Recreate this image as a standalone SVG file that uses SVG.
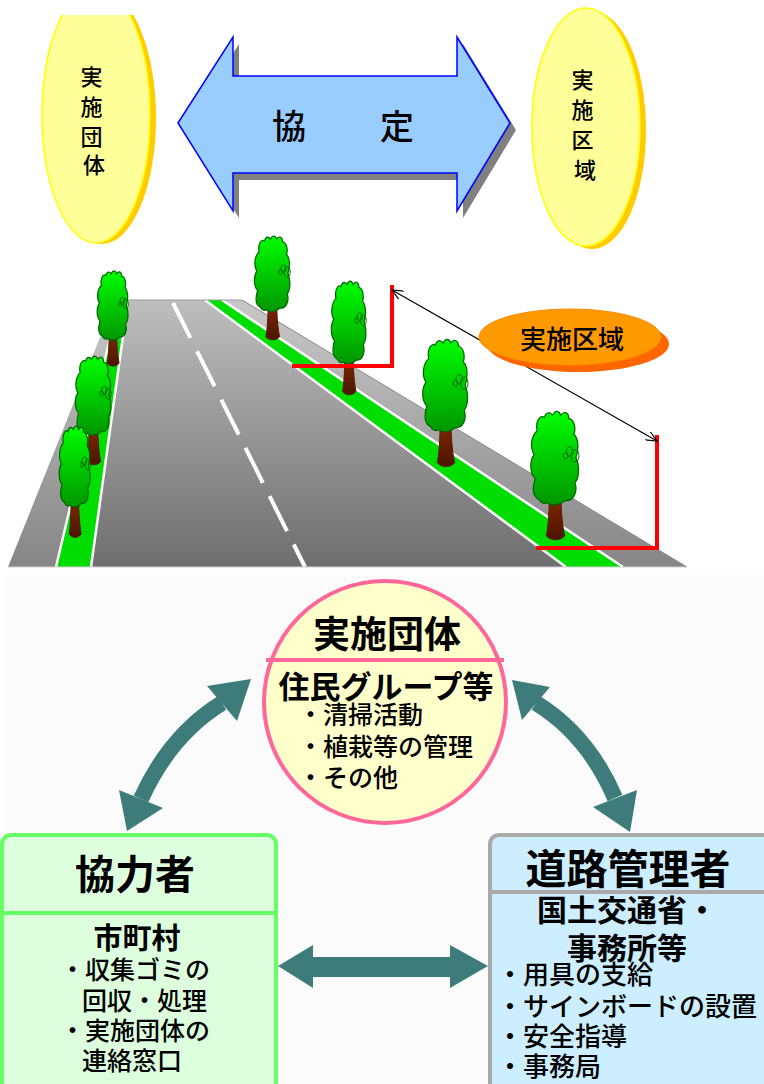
<svg xmlns="http://www.w3.org/2000/svg" width="764" height="1084" viewBox="0 0 764 1084">
  <style>
    .jp { font-family: "Noto Sans CJK JP", "Noto Sans CJK SC", sans-serif; fill: #000; }
    .m { font-weight: 500; }
    .b { font-weight: bold; }
    .teal { fill: #3E7C7C; }
    .wline { stroke: #FFFFFF; stroke-width: 2.5; fill: none; }
    .red { stroke: #FF0000; stroke-width: 4; fill: none; }
  </style>
  <defs>
    <clipPath id="clipTop">
      <rect x="0" y="15" width="764" height="300"/>
    </clipPath>
    <linearGradient id="roadGrad" x1="0" y1="0" x2="0" y2="1">
      <stop offset="0" stop-color="#BEBEBE"/>
      <stop offset="1" stop-color="#6E6E6E"/>
    </linearGradient>
    <linearGradient id="shoulderGrad" x1="0" y1="0" x2="0" y2="1">
      <stop offset="0" stop-color="#C8C8C8"/>
      <stop offset="1" stop-color="#868686"/>
    </linearGradient>
    <linearGradient id="crownGrad" x1="0" y1="0" x2="0" y2="1">
      <stop offset="0" stop-color="#00FF00"/>
      <stop offset="1" stop-color="#009600"/>
    </linearGradient>
    <linearGradient id="trunkGrad" x1="0" y1="0" x2="0" y2="1">
      <stop offset="0" stop-color="#992E00"/>
      <stop offset="1" stop-color="#4A1500"/>
    </linearGradient>
    <marker id="openHead" viewBox="0 0 12 10" refX="11" refY="5" markerWidth="12" markerHeight="10" markerUnits="userSpaceOnUse" orient="auto-start-reverse">
      <path d="M0 0 L11 5 L0 10" fill="none" stroke="#000" stroke-width="1.2"/>
    </marker>
    <!-- tree drawn in a 50 x 125 box: crown 0..90, trunk below -->
    <g id="tree">
      <path d="M20 66 L31 66 C31 92 32 108 35 121 C31 126 21 126 17 121 C20 106 20 88 20 66 Z" fill="url(#trunkGrad)" stroke="#5A1A00" stroke-width="1" vector-effect="non-scaling-stroke"/>
      <path d="M10 86 C2 83 4 72 6 66 C0 60 1 48 5 43 C0 35 3 24 8 20 C6 11 11 4 15 7 C17 1 21 2 23 5 C26 -1 30 1 31 5 C35 0 39 3 39 8 C45 9 46 19 44 23 C50 29 48 41 46 46 C50 54 49 66 45 70 C48 78 44 88 36 87 C30 91 22 93 18 89 C15 91 11 89 10 86 Z" fill="url(#crownGrad)" stroke="#006400" stroke-width="1.2" vector-effect="non-scaling-stroke"/>
      <ellipse cx="40" cy="40" rx="3.5" ry="4.5" fill="none" stroke="#007000" stroke-width="1" vector-effect="non-scaling-stroke"/>
      <ellipse cx="45" cy="44" rx="4" ry="6" fill="none" stroke="#007000" stroke-width="1" vector-effect="non-scaling-stroke"/>
      <ellipse cx="36" cy="44" rx="2.5" ry="3" fill="none" stroke="#007000" stroke-width="1" vector-effect="non-scaling-stroke"/>
    </g>
  </defs>

  <rect width="764" height="1084" fill="#FFFFFF"/>

  <!-- agreement overview -->
  <g id="node-dantai-top">
    <g clip-path="url(#clipTop)">
      <ellipse cx="102" cy="118" rx="54" ry="126" fill="#FFCC00"/>
      <ellipse cx="96" cy="115" rx="54" ry="128" fill="#FFFF99" stroke="#FFFF00" stroke-width="1.5"/>
    </g>
    <text class="jp m" font-size="22" text-anchor="middle">
      <tspan x="94" y="85">実</tspan>
      <tspan x="94" y="115">施</tspan>
      <tspan x="94" y="145">団</tspan>
      <tspan x="94" y="173">体</tspan>
    </text>
  </g>

  <g id="node-kyotei">
    <polygon points="184,130 239,44 239,83 463,83 463,44 516,130 463,218 463,180 239,180 239,218" fill="#808080"/>
    <polygon points="178,123 233,37 233,76 457,76 457,37 510,123 457,211 457,173 233,173 233,211" fill="#99CCFF" stroke="#0000FF" stroke-width="1.5"/>
    <text class="jp m" x="344" y="139" font-size="34" text-anchor="middle" letter-spacing="2">協　　定</text>
  </g>

  <g id="node-kuiki-top">
    <ellipse cx="592" cy="130" rx="54" ry="119" fill="#FFCC00"/>
    <ellipse cx="586" cy="127" rx="54" ry="119" fill="#FFFF99" stroke="#FFFF00" stroke-width="1.5"/>
    <text class="jp m" font-size="22" text-anchor="middle">
      <tspan x="585" y="88">実</tspan>
      <tspan x="585" y="118">施</tspan>
      <tspan x="585" y="148">区</tspan>
      <tspan x="585" y="178">域</tspan>
    </text>
  </g>

  <!-- road scene -->
  <g id="road">
    <polygon points="115,300 120,300 56,567 8,567" fill="url(#shoulderGrad)"/>
    <polygon points="223,300 242,300 687,567 624,567" fill="url(#shoulderGrad)"/>
    <line x1="242" y1="300" x2="687" y2="567" stroke="#8A8A8A" stroke-width="1"/>
    <polygon points="128,300 205,300 566,567 91,567" fill="url(#roadGrad)"/>
    <polygon points="119,300 128,300 91,567 56,567" fill="#00DD00"/>
    <polygon points="205,300 222,300 623,567 566,567" fill="#00DD00"/>
    <line class="wline" x1="119" y1="300" x2="56" y2="567"/>
    <line class="wline" x1="128" y1="300" x2="91" y2="567"/>
    <line class="wline" x1="205" y1="300" x2="566" y2="567"/>
    <line class="wline" x1="222" y1="300" x2="623" y2="567"/>
    <line x1="128" y1="300" x2="242" y2="300" stroke="#9A9A9A" stroke-width="1"/>
    <line x1="173" y1="303" x2="305" y2="567" stroke="#FFFFFF" stroke-width="4" stroke-dasharray="39 15"/>
    <line x1="8" y1="567" x2="687" y2="567" stroke="#D0D0D0" stroke-width="1"/>
  </g>

  <g id="trees">
    <use href="#tree" transform="translate(96,270) scale(0.66,0.77)"/>
    <use href="#tree" transform="translate(74,355) scale(0.76,0.88)"/>
    <use href="#tree" transform="translate(58,425) scale(0.66,0.9)"/>
    <use href="#tree" transform="translate(253,235) scale(0.76,0.84)"/>
    <use href="#tree" transform="translate(330,280) scale(0.74,0.92)"/>
    <use href="#tree" transform="translate(421,338) scale(0.96,1.03)"/>
    <use href="#tree" transform="translate(529,410) scale(1.02,1.04)"/>
  </g>

  <g id="area-marks">
    <polyline class="red" points="292,366 392,366 392,285"/>
    <polyline class="red" points="536,548 657,548 657,435"/>
  </g>

  <!-- organisation chart backdrop -->
  <rect x="4" y="575" width="760" height="509" fill="#FBFBFB"/>

  <g id="connectors">
    <line x1="392" y1="290" x2="657" y2="441" stroke="#000" stroke-width="1.2" marker-start="url(#openHead)" marker-end="url(#openHead)"/>
    <!-- relation arrows between the three parties -->
    <path d="M222 703 Q170 735 141 799" fill="none" stroke="#3E7C7C" stroke-width="16"/>
    <polygon class="teal" points="251,679 207,686 237,721"/>
    <polygon class="teal" points="127,831 119,790 163,808"/>
    <path d="M536 703 Q588 735 615 798" fill="none" stroke="#3E7C7C" stroke-width="16"/>
    <polygon class="teal" points="512,680 550,687 522,720"/>
    <polygon class="teal" points="630,832 637,790 593,807"/>
    <polygon class="teal" points="278,966 313,945 313,957 450,957 450,945 488,966 450,988 450,977 313,977 313,988"/>
  </g>

  <g id="node-kuiki-label">
    <ellipse cx="578" cy="344" rx="91" ry="28" fill="#FF6600"/>
    <ellipse cx="570" cy="337" rx="91" ry="28" fill="#FF9900" stroke="#FF8800" stroke-width="1"/>
    <text class="jp m" x="572" y="349" font-size="26" text-anchor="middle">実施区域</text>
  </g>

  <g id="node-jisshi-dantai">
    <circle cx="385" cy="702" r="121" fill="#FFFFCC" stroke="#FF6699" stroke-width="4"/>
    <line x1="266" y1="660" x2="504" y2="660" stroke="#FF6699" stroke-width="4"/>
    <text class="jp b" x="387" y="648" font-size="37" text-anchor="middle">実施団体</text>
    <text class="jp b" x="386" y="698" font-size="31" text-anchor="middle">住民グループ等</text>
    <text class="jp m" x="298" y="724" font-size="25">・清掃活動</text>
    <text class="jp m" x="298" y="756" font-size="25">・植栽等の管理</text>
    <text class="jp m" x="298" y="787" font-size="25">・その他</text>
  </g>

  <g id="node-kyoryokusha">
    <rect x="2" y="835" width="274" height="270" rx="9" fill="#DDFFDD" stroke="#66FF66" stroke-width="4"/>
    <line x1="2" y1="913" x2="276" y2="913" stroke="#66FF66" stroke-width="4"/>
    <text class="jp b" x="135" y="889" font-size="40" text-anchor="middle">協力者</text>
    <text class="jp b" x="137" y="949" font-size="29" text-anchor="middle">市町村</text>
    <text class="jp m" x="60" y="979" font-size="25">・収集ゴミの</text>
    <text class="jp m" x="82" y="1010" font-size="25">回収・処理</text>
    <text class="jp m" x="60" y="1040" font-size="25">・実施団体の</text>
    <text class="jp m" x="82" y="1070" font-size="25">連絡窓口</text>
  </g>

  <g id="node-doro-kanrisha">
    <rect x="490" y="835" width="290" height="270" rx="9" fill="#CCEEFF" stroke="#AAAAAA" stroke-width="4"/>
    <line x1="490" y1="892" x2="764" y2="892" stroke="#AAAAAA" stroke-width="4"/>
    <text class="jp b" x="628" y="884" font-size="41" text-anchor="middle">道路管理者</text>
    <text class="jp b" x="627" y="921" font-size="30" text-anchor="middle">国土交通省・</text>
    <text class="jp b" x="627" y="959" font-size="30" text-anchor="middle">事務所等</text>
    <text class="jp m" x="497" y="984" font-size="26">・用具の支給</text>
    <text class="jp m" x="497" y="1016" font-size="26">・サインボードの設置</text>
    <text class="jp m" x="497" y="1046" font-size="26">・安全指導</text>
    <text class="jp m" x="497" y="1076" font-size="26">・事務局</text>
  </g>
</svg>
